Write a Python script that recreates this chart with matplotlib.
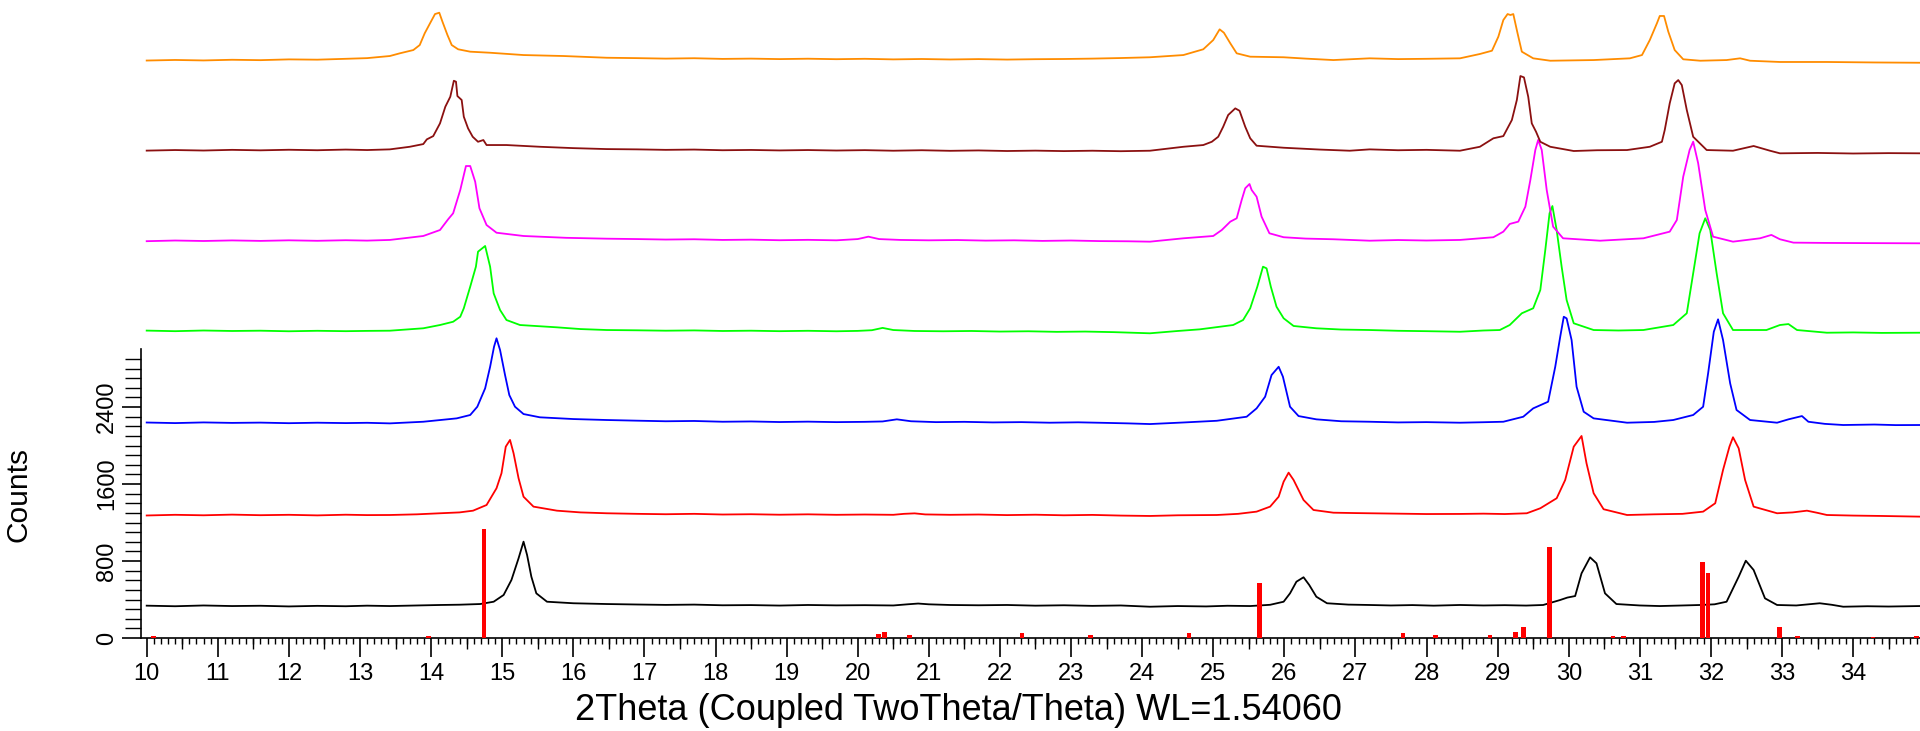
import numpy as np
import matplotlib
matplotlib.use('Agg')
import matplotlib.pyplot as plt
from matplotlib.ticker import MultipleLocator, FixedLocator, NullLocator

plt.rcParams['font.family'] = ['Liberation Sans', 'DejaVu Sans']

# scans: (2theta, counts) before stacking
black_pts = [(10.0, 336), (10.4, 330), (10.8, 338), (11.2, 332), (11.6, 335), (12.0, 328), (12.4, 334), (12.8, 330),
             (13.1, 336), (13.42, 332), (13.8, 338), (14.125, 343), (14.4, 346), (14.69, 353), (14.88, 377), (15.02, 447),
             (15.13, 603), (15.23, 828), (15.30, 1001), (15.35, 862), (15.41, 637), (15.48, 464), (15.63, 377), (16.0, 361),
             (16.47, 353), (16.9, 348), (17.3, 344), (17.7, 347), (18.1, 340), (18.5, 342), (18.9, 337), (19.3, 343),
             (19.7, 339), (20.1, 341), (20.5, 338), (20.7, 350), (20.85, 358), (21.0, 350), (21.3, 343), (21.7, 340),
             (22.1, 343), (22.5, 336), (22.9, 340), (23.3, 334), (23.7, 338), (24.11, 325), (24.5, 332), (24.9, 328),
             (25.2, 335), (25.52, 332), (25.8, 345), (25.99, 377), (26.08, 464), (26.17, 585), (26.27, 631), (26.35, 551),
             (26.45, 429), (26.60, 361), (26.9, 347), (27.20, 343), (27.5, 338), (27.8, 342), (28.1, 336), (28.47, 343),
             (28.8, 338), (29.1, 341), (29.4, 337), (29.64, 343), (29.88, 395), (29.98, 420), (30.09, 436), (30.18, 672),
             (30.30, 838), (30.39, 776), (30.51, 464), (30.67, 353), (31.0, 338), (31.28, 332), (31.6, 338), (31.85, 343),
             (32.05, 350), (32.22, 377), (32.39, 637), (32.49, 803), (32.60, 707), (32.76, 412), (32.93, 343), (33.2, 338),
             (33.53, 361), (33.7, 345), (33.86, 325), (34.2, 330), (34.5, 327), (34.94, 332)]

red_pts = [(10.0, 323), (10.4, 330), (10.8, 325), (11.2, 332), (11.6, 326), (12.0, 330), (12.4, 324), (12.8, 331),
           (13.1, 327), (13.42, 328), (13.8, 335), (14.125, 346), (14.4, 355), (14.59, 373), (14.78, 432), (14.92, 606),
           (14.99, 762), (15.05, 1038), (15.11, 1108), (15.16, 969), (15.23, 710), (15.30, 518), (15.44, 415), (15.77, 373),
           (16.1, 355), (16.47, 346), (16.9, 340), (17.3, 336), (17.7, 340), (18.1, 333), (18.5, 336), (18.9, 331),
           (19.3, 335), (19.7, 330), (20.1, 333), (20.5, 330), (20.65, 340), (20.8, 345), (20.95, 334), (21.3, 330),
           (21.7, 333), (22.1, 327), (22.5, 331), (22.9, 325), (23.3, 329), (23.7, 322), (24.11, 318), (24.5, 325),
           (25.05, 328), (25.35, 340), (25.61, 363), (25.80, 415), (25.92, 518), (25.99, 674), (26.06, 768), (26.13, 692),
           (26.27, 484), (26.41, 380), (26.69, 352), (27.0, 348), (27.20, 346), (27.6, 342), (28.0, 338), (28.47, 339),
           (28.8, 342), (29.1, 338), (29.41, 346), (29.60, 398), (29.83, 502), (29.95, 692), (30.07, 1038), (30.18, 1149),
           (30.25, 865), (30.35, 554), (30.49, 388), (30.82, 328), (31.2, 335), (31.6, 340), (31.89, 363), (32.06, 450),
           (32.17, 796), (32.26, 1038), (32.31, 1136), (32.39, 1021), (32.48, 692), (32.60, 415), (32.93, 346), (33.15, 355),
           (33.35, 373), (33.5, 350), (33.63, 328), (34.0, 322), (34.4, 318), (34.94, 311)]

blue_pts = [(10.0, 339), (10.4, 333), (10.8, 340), (11.2, 335), (11.6, 338), (12.0, 332), (12.4, 337), (12.8, 333),
            (13.1, 336), (13.42, 330), (13.89, 347), (14.36, 382), (14.55, 417), (14.65, 503), (14.76, 694), (14.83, 918),
            (14.885, 1126), (14.92, 1214), (14.97, 1092), (15.04, 832), (15.10, 624), (15.18, 503), (15.30, 427), (15.53, 393),
            (16.0, 375), (16.47, 365), (16.9, 358), (17.3, 352), (17.7, 355), (18.1, 347), (18.5, 350), (18.9, 344),
            (19.3, 348), (19.7, 343), (20.1, 346), (20.35, 350), (20.55, 372), (20.75, 352), (21.1, 343), (21.5, 346),
            (21.9, 340), (22.3, 343), (22.7, 337), (23.1, 341), (23.5, 335), (23.8, 330), (24.11, 323), (24.6, 340),
            (25.05, 357), (25.47, 399), (25.61, 486), (25.73, 607), (25.82, 832), (25.92, 918), (25.98, 815), (26.08, 503),
            (26.20, 406), (26.45, 372), (26.8, 352), (27.20, 347), (27.6, 340), (28.0, 343), (28.47, 337), (28.8, 342),
            (29.08, 347), (29.36, 399), (29.50, 486), (29.71, 555), (29.81, 918), (29.88, 1230), (29.93, 1438), (29.97, 1421),
            (30.04, 1196), (30.11, 711), (30.21, 451), (30.35, 382), (30.82, 337), (31.2, 345), (31.47, 365), (31.75, 417),
            (31.89, 503), (31.96, 850), (32.04, 1282), (32.10, 1411), (32.17, 1196), (32.27, 746), (32.36, 469), (32.55, 365),
            (32.93, 337), (33.09, 372), (33.28, 406), (33.37, 347), (33.6, 325), (33.86, 313), (34.3, 318), (34.6, 312),
            (34.94, 313)]

green_pts = [(10.0, 344), (10.4, 338), (10.8, 345), (11.2, 340), (11.6, 343), (12.0, 337), (12.4, 342), (12.8, 338),
             (13.1, 341), (13.42, 343), (13.89, 368), (14.125, 402), (14.31, 436), (14.41, 488), (14.46, 576), (14.55, 800),
             (14.63, 1008), (14.66, 1164), (14.76, 1223), (14.83, 1008), (14.88, 731), (14.97, 558), (15.06, 454), (15.25, 402),
             (15.77, 378), (16.1, 360), (16.47, 350), (16.9, 347), (17.3, 343), (17.7, 346), (18.1, 340), (18.5, 343),
             (18.9, 338), (19.3, 342), (19.7, 337), (20.0, 341), (20.2, 348), (20.35, 372), (20.5, 350), (20.8, 340),
             (21.2, 337), (21.6, 340), (22.0, 334), (22.4, 337), (22.8, 331), (23.2, 334), (23.6, 328), (24.11, 316),
             (24.5, 340), (24.81, 357), (25.28, 402), (25.42, 454), (25.52, 576), (25.62, 800), (25.70, 1008), (25.75, 991),
             (25.81, 800), (25.89, 592), (25.99, 472), (26.13, 392), (26.45, 368), (26.8, 355), (27.20, 350), (27.6, 342),
             (28.0, 338), (28.47, 332), (28.8, 345), (29.03, 350), (29.17, 402), (29.34, 524), (29.50, 576), (29.60, 766),
             (29.67, 1181), (29.73, 1563), (29.77, 1638), (29.83, 1389), (29.90, 1008), (29.97, 662), (30.07, 420), (30.35, 350),
             (30.7, 345), (31.05, 350), (31.47, 402), (31.66, 524), (31.75, 939), (31.84, 1355), (31.92, 1511), (31.99, 1389),
             (32.08, 939), (32.17, 524), (32.31, 350), (32.78, 350), (32.97, 402), (33.09, 412), (33.21, 350), (33.63, 322),
             (34.0, 325), (34.4, 320), (34.94, 322)]

magenta_pts = [(10.0, 323), (10.4, 330), (10.8, 325), (11.2, 331), (11.6, 326), (12.0, 332), (12.4, 327), (12.8, 333),
               (13.1, 329), (13.42, 336), (13.89, 377), (14.125, 439), (14.24, 551), (14.31, 613), (14.41, 855), (14.49, 1104),
               (14.55, 1104), (14.62, 941), (14.68, 665), (14.78, 491), (14.92, 411), (15.30, 377), (15.9, 358), (16.47, 349),
               (16.9, 345), (17.3, 340), (17.7, 343), (18.1, 336), (18.5, 339), (18.9, 333), (19.3, 337), (19.7, 332),
               (20.0, 345), (20.15, 370), (20.3, 345), (20.6, 336), (21.0, 332), (21.4, 335), (21.8, 329), (22.2, 332),
               (22.6, 326), (23.0, 330), (23.4, 324), (23.8, 322), (24.11, 318), (24.58, 353), (25.0, 377), (25.12, 439),
               (25.24, 526), (25.33, 561), (25.40, 751), (25.45, 873), (25.51, 917), (25.54, 855), (25.61, 785), (25.68, 578),
               (25.79, 405), (25.99, 364), (26.3, 350), (26.69, 343), (27.20, 328), (27.6, 335), (28.0, 330), (28.47, 336),
               (28.94, 364), (29.08, 422), (29.17, 502), (29.29, 526), (29.39, 682), (29.46, 959), (29.53, 1271), (29.57, 1375),
               (29.62, 1271), (29.69, 855), (29.78, 474), (29.92, 353), (30.44, 328), (31.05, 353), (31.42, 422), (31.52, 543),
               (31.61, 993), (31.70, 1271), (31.75, 1357), (31.82, 1133), (31.92, 647), (32.03, 370), (32.31, 318), (32.69, 353),
               (32.85, 388), (32.97, 343), (33.16, 308), (33.6, 305), (34.2, 303), (34.94, 301)]

brown_pts = [(10.0, 314), (10.4, 320), (10.8, 315), (11.2, 322), (11.6, 317), (12.0, 323), (12.4, 318), (12.8, 325),
             (13.1, 320), (13.42, 327), (13.70, 354), (13.89, 382), (13.94, 431), (14.03, 465), (14.125, 597), (14.20, 770),
             (14.27, 874), (14.32, 1040), (14.35, 1030), (14.37, 881), (14.43, 840), (14.46, 666), (14.52, 545), (14.585, 458),
             (14.66, 406), (14.735, 424), (14.78, 372), (15.06, 372), (15.53, 354), (16.0, 340), (16.47, 330), (16.9, 327),
             (17.3, 322), (17.7, 325), (18.1, 318), (18.5, 321), (18.9, 316), (19.3, 320), (19.7, 315), (20.1, 319),
             (20.5, 313), (20.9, 318), (21.3, 312), (21.7, 316), (22.1, 310), (22.5, 314), (22.9, 309), (23.3, 313),
             (23.7, 308), (24.11, 313), (24.58, 354), (24.86, 372), (24.98, 406), (25.07, 458), (25.14, 562), (25.21, 684),
             (25.31, 753), (25.37, 728), (25.45, 562), (25.52, 442), (25.61, 365), (25.99, 344), (26.5, 325), (26.92, 313),
             (27.20, 327), (27.6, 318), (28.0, 322), (28.47, 313), (28.75, 354), (28.94, 442), (29.08, 465), (29.20, 632),
             (29.27, 840), (29.32, 1089), (29.37, 1075), (29.43, 874), (29.48, 597), (29.54, 510), (29.60, 406), (29.74, 354),
             (30.07, 310), (30.4, 318), (30.82, 320), (31.14, 354), (31.31, 406), (31.35, 528), (31.42, 805), (31.49, 1013),
             (31.54, 1047), (31.59, 995), (31.66, 736), (31.75, 458), (31.94, 320), (32.31, 313), (32.60, 362), (32.83, 313),
             (32.97, 286), (33.5, 290), (34.0, 284), (34.5, 288), (34.94, 286)]

orange_pts = [(10.0, 300), (10.4, 306), (10.8, 301), (11.2, 308), (11.6, 304), (12.0, 312), (12.4, 309), (12.8, 318),
              (13.1, 325), (13.42, 347), (13.56, 375), (13.75, 409), (13.84, 461), (13.91, 583), (13.985, 687), (14.055, 783),
              (14.115, 797), (14.16, 703), (14.23, 565), (14.29, 461), (14.38, 417), (14.55, 392), (14.83, 381), (15.30, 357),
              (15.86, 347), (16.47, 329), (16.9, 325), (17.3, 320), (17.7, 324), (18.1, 317), (18.5, 320), (18.9, 315),
              (19.3, 319), (19.7, 314), (20.1, 318), (20.5, 312), (20.9, 316), (21.3, 311), (21.7, 315), (22.1, 310),
              (22.5, 314), (22.9, 316), (23.3, 320), (23.7, 326), (24.11, 334), (24.58, 357), (24.86, 417), (25.0, 513),
              (25.09, 624), (25.15, 589), (25.24, 479), (25.33, 375), (25.52, 340), (25.99, 334), (26.3, 320), (26.69, 305),
              (27.20, 323), (27.6, 315), (28.0, 318), (28.47, 323), (28.75, 368), (28.92, 402), (29.01, 548), (29.08, 721),
              (29.14, 783), (29.18, 773), (29.22, 783), (29.28, 583), (29.34, 392), (29.50, 323), (29.74, 298), (30.35, 305),
              (30.86, 323), (31.03, 357), (31.14, 513), (31.24, 687), (31.28, 763), (31.34, 763), (31.40, 600), (31.49, 409),
              (31.61, 313), (31.85, 298), (32.22, 305), (32.41, 323), (32.55, 298), (32.97, 285), (33.63, 285), (34.3, 280),
              (34.94, 277)]

# reference pattern sticks
stick_pos = [10.10, 13.96, 14.745, 20.29, 20.38, 20.73, 22.31, 23.27, 24.66, 25.65, 27.67, 28.13, 28.89,
             29.25, 29.36, 29.73, 30.62, 30.77, 31.88, 31.96, 32.96, 33.22, 34.28, 34.89]
stick_h = [25, 25, 1130, 37, 60, 28, 50, 28, 50, 568, 50, 28, 28,
           62, 111, 949, 20, 20, 786, 679, 111, 20, 15, 20]

scans = [black_pts, red_pts, blue_pts, green_pts, magenta_pts, brown_pts, orange_pts]
colors = ['#000000', '#FF0000', '#0000FF', '#00FF00', '#FF00FF', '#8B1010', '#FF8C00']
offset_step = 950

fig = plt.figure(figsize=(19.2, 7.31), dpi=100)
ax = fig.add_axes([141 / 1920, 93 / 731, 1779 / 1920, 638 / 731])

for i, pts in enumerate(scans):
    xy = np.array(pts, dtype=float)
    ax.plot(xy[:, 0], xy[:, 1] + i * offset_step, color=colors[i], lw=1.3, zorder=2)

ax.bar(stick_pos, stick_h, width=0.065, color='#FF0000', zorder=3)

ax.set_xlim(9.92, 34.94)
ax.set_ylim(0, 6629)

for s in ['top', 'right']:
    ax.spines[s].set_visible(False)
ax.spines['left'].set_bounds(0, 3000)
ax.spines['left'].set_linewidth(1.2)
ax.spines['bottom'].set_linewidth(1.2)

ax.xaxis.set_major_locator(MultipleLocator(1))
ax.xaxis.set_minor_locator(MultipleLocator(0.1))
ax.yaxis.set_major_locator(FixedLocator([0, 800, 1600, 2400]))
ax.yaxis.set_minor_locator(FixedLocator(np.arange(100, 3000, 100)))

ax.tick_params(axis='x', which='major', length=13.7, width=1.2, pad=4, labelsize=17)
ax.tick_params(axis='x', which='minor', length=4.3, width=1.0)
ax.tick_params(axis='y', which='major', length=13.7, width=1.2, pad=3, labelsize=17)
ax.tick_params(axis='y', which='minor', length=11.5, width=1.0)
for lbl in ax.get_yticklabels():
    lbl.set_rotation(90)
    lbl.set_va('center')

# half-degree ticks, a little longer than the tenths
sec = ax.secondary_xaxis('bottom')
sec.set_xticks(np.arange(10.5, 35, 1))
sec.xaxis.set_minor_locator(NullLocator())
sec.tick_params(axis='x', length=7.9, width=1.0, labelbottom=False)
sec.spines['bottom'].set_visible(False)

fig.text(18.7 / 1920, 1 - 494 / 731, 'Counts', rotation=90, ha='center', va='center', fontsize=21.5)
fig.text(958 / 1920, 1 - 710 / 731, '2Theta (Coupled TwoTheta/Theta) WL=1.54060',
         ha='center', va='center', fontsize=26)

fig.savefig('out.png', dpi=100)
